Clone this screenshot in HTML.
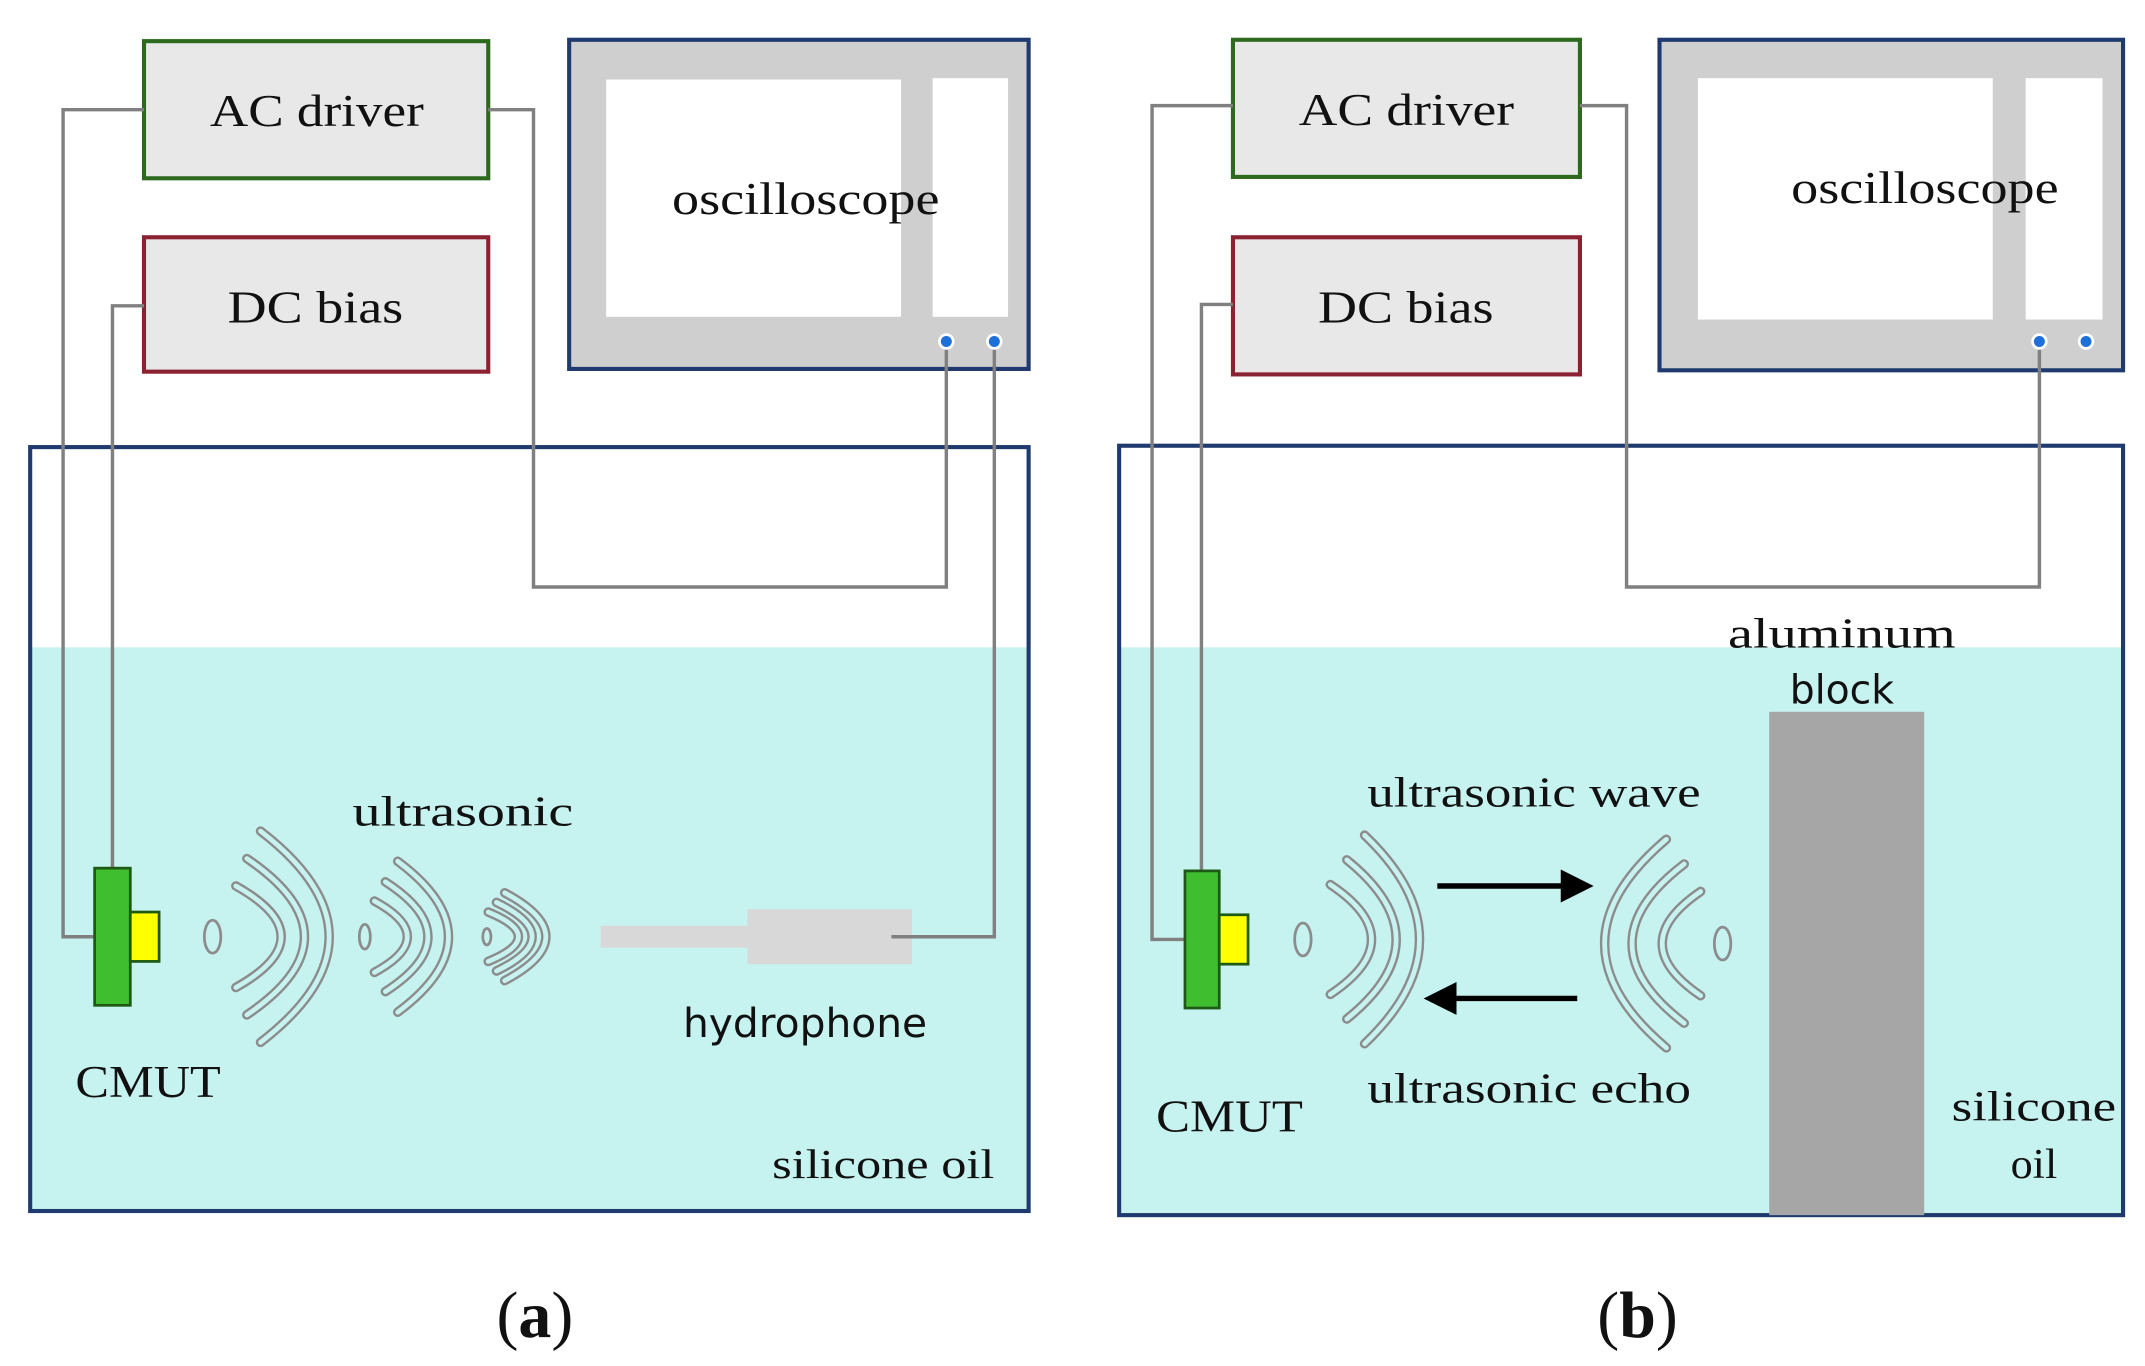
<!DOCTYPE html>
<html><head><style>html,body{margin:0;padding:0;background:#fff}svg{display:block}
.s{font-family:"Liberation Serif",serif;fill:#111}
.w{fill:none;stroke:#8c8c8c;stroke-width:7;stroke-linecap:round}
.wi{fill:none;stroke:#c6f2ef;stroke-width:3.5;stroke-linecap:round}
.g{fill:none;stroke:#808080;stroke-width:2.5}
</style></head><body>
<svg width="2145" height="1366" viewBox="0 0 1564 996" preserveAspectRatio="none" xmlns="http://www.w3.org/2000/svg">
<!-- Panel a -->
<rect x="22" y="326" width="728" height="557" fill="#fff"/>
<rect x="22" y="472" width="728" height="411" fill="#c6f2ef"/>
<rect x="22" y="326" width="728" height="557" fill="none" stroke="#1f3a6e" stroke-width="3"/>
<rect x="105" y="30" width="251" height="100" fill="#e8e8e8" stroke="#2d6a1e" stroke-width="3"/>
<rect x="105" y="173" width="251" height="98" fill="#e8e8e8" stroke="#8b2232" stroke-width="3"/>
<rect x="415" y="29" width="335" height="240" fill="#d0cfd0" stroke="#1f3a6e" stroke-width="3"/>
<rect x="442" y="58" width="215" height="173" fill="#fff"/>
<rect x="680" y="57" width="55" height="174" fill="#fff"/>
<polyline class="g" points="105,80 46,80 46,683 70,683"/>
<polyline class="g" points="105,223 82,223 82,633"/>
<polyline class="g" points="356,80 389,80 389,428 690,428 690,250"/>
<polyline class="g" points="725,250 725,683 650,683"/>
<circle cx="690" cy="249" r="5" fill="#1e6fd8" stroke="#fff" stroke-width="2"/>
<circle cx="725" cy="249" r="5" fill="#1e6fd8" stroke="#fff" stroke-width="2"/>
<rect x="69" y="633" width="26" height="100" fill="#3fbf2f" stroke="#1e5a14" stroke-width="2"/>
<rect x="95" y="665" width="21" height="36" fill="#ffff00" stroke="#1e5a14" stroke-width="2"/>
<rect x="438" y="675" width="107" height="16" fill="#d8d8d8"/>
<rect x="545" y="663" width="120" height="40" fill="#d8d8d8"/>
<polyline class="g" points="650,683 725,683"/>
<g>
<path class="w" d="M190,606 Q290,683 190,760 M180,626 Q264,683 180,740 M172,646 Q238,683 172,720 M290,628 Q364,683 290,738 M281,643 Q343,683 281,723 M273,657 Q321,683 273,709 M368,651 Q428,683 368,715 M362,658 Q414,683 362,708 M356,665 Q400,683 356,701"/>
<path class="wi" d="M190,606 Q290,683 190,760 M180,626 Q264,683 180,740 M172,646 Q238,683 172,720 M290,628 Q364,683 290,738 M281,643 Q343,683 281,723 M273,657 Q321,683 273,709 M368,651 Q428,683 368,715 M362,658 Q414,683 362,708 M356,665 Q400,683 356,701"/>
<ellipse cx="155" cy="683" rx="6" ry="12" fill="none" stroke="#8c8c8c" stroke-width="2"/>
<ellipse cx="266" cy="683" rx="4" ry="9" fill="none" stroke="#8c8c8c" stroke-width="2"/>
<ellipse cx="355" cy="683" rx="3" ry="6" fill="none" stroke="#8c8c8c" stroke-width="2"/>
</g>
<text class="s" x="153" y="92" font-size="33" textLength="156" lengthAdjust="spacingAndGlyphs">AC driver</text>
<text class="s" x="166" y="235" font-size="33" textLength="128" lengthAdjust="spacingAndGlyphs">DC bias</text>
<text class="s" x="490" y="156" font-size="33" textLength="195" lengthAdjust="spacingAndGlyphs">oscilloscope</text>
<text class="s" x="257" y="602" font-size="31" textLength="161" lengthAdjust="spacingAndGlyphs">ultrasonic</text>
<text x="498" y="756" font-size="29" textLength="178" lengthAdjust="spacingAndGlyphs" font-family="DejaVu Sans, sans-serif" fill="#111">hydrophone</text>
<text class="s" x="55" y="800" font-size="33" textLength="106" lengthAdjust="spacingAndGlyphs">CMUT</text>
<text class="s" x="563" y="859" font-size="30" textLength="162" lengthAdjust="spacingAndGlyphs">silicone oil</text>
<text class="s" x="390" y="975" font-size="48" text-anchor="middle">(<tspan font-weight="bold">a</tspan>)</text>
<!-- Panel b -->
<rect x="816" y="325" width="732" height="561" fill="#fff"/>
<rect x="816" y="472" width="732" height="414" fill="#c6f2ef"/>
<rect x="816" y="325" width="732" height="561" fill="none" stroke="#1f3a6e" stroke-width="3"/>
<rect x="899" y="29" width="253" height="100" fill="#e8e8e8" stroke="#2d6a1e" stroke-width="3"/>
<rect x="899" y="173" width="253" height="100" fill="#e8e8e8" stroke="#8b2232" stroke-width="3"/>
<rect x="1210" y="29" width="338" height="241" fill="#d0cfd0" stroke="#1f3a6e" stroke-width="3"/>
<rect x="1238" y="57" width="215" height="176" fill="#fff"/>
<rect x="1477" y="57" width="56" height="176" fill="#fff"/>
<polyline class="g" points="899,77 840,77 840,685 864,685"/>
<polyline class="g" points="899,222 876,222 876,635"/>
<polyline class="g" points="1152,77 1186,77 1186,428 1487,428 1487,250"/>
<circle cx="1487" cy="249" r="5" fill="#1e6fd8" stroke="#fff" stroke-width="2"/>
<circle cx="1521" cy="249" r="5" fill="#1e6fd8" stroke="#fff" stroke-width="2"/>
<rect x="864" y="635" width="25" height="100" fill="#3fbf2f" stroke="#1e5a14" stroke-width="2"/>
<rect x="889" y="667" width="21" height="36" fill="#ffff00" stroke="#1e5a14" stroke-width="2"/>
<rect x="1290" y="519" width="113" height="367" fill="#a6a6a6"/>
<g>
<path class="w" d="M995,609 Q1075,685 995,761 M982,627 Q1054,685 982,743 M970,645 Q1030,685 970,725 M1215,612 Q1125,688 1215,764 M1228,630 Q1152,688 1228,746 M1240,650 Q1184,688 1240,726"/>
<path class="wi" d="M995,609 Q1075,685 995,761 M982,627 Q1054,685 982,743 M970,645 Q1030,685 970,725 M1215,612 Q1125,688 1215,764 M1228,630 Q1152,688 1228,746 M1240,650 Q1184,688 1240,726"/>
<ellipse cx="950" cy="685" rx="6" ry="12" fill="none" stroke="#8c8c8c" stroke-width="2"/>
<ellipse cx="1256" cy="688" rx="6" ry="12" fill="none" stroke="#8c8c8c" stroke-width="2"/>
</g>
<line x1="1048" y1="646" x2="1140" y2="646" stroke="#000" stroke-width="4"/>
<polygon points="1138,634 1162,646 1138,658" fill="#000"/>
<line x1="1150" y1="728" x2="1060" y2="728" stroke="#000" stroke-width="4"/>
<polygon points="1062,716 1038,728 1062,740" fill="#000"/>
<text class="s" x="947" y="91" font-size="33" textLength="157" lengthAdjust="spacingAndGlyphs">AC driver</text>
<text class="s" x="961" y="235" font-size="33" textLength="128" lengthAdjust="spacingAndGlyphs">DC bias</text>
<text class="s" x="1306" y="148" font-size="33" textLength="195" lengthAdjust="spacingAndGlyphs">oscilloscope</text>
<text class="s" x="1260" y="472" font-size="31" textLength="166" lengthAdjust="spacingAndGlyphs">aluminum</text>
<text x="1305" y="513" font-size="29" textLength="76" lengthAdjust="spacingAndGlyphs" font-family="DejaVu Sans, sans-serif" fill="#111">block</text>
<text class="s" x="997" y="588" font-size="31" textLength="243" lengthAdjust="spacingAndGlyphs">ultrasonic wave</text>
<text class="s" x="997" y="804" font-size="31" textLength="236" lengthAdjust="spacingAndGlyphs">ultrasonic echo</text>
<text class="s" x="843" y="825" font-size="33" textLength="107" lengthAdjust="spacingAndGlyphs">CMUT</text>
<text class="s" x="1423" y="817" font-size="31" textLength="120" lengthAdjust="spacingAndGlyphs">silicone</text>
<text class="s" x="1466" y="859" font-size="31" textLength="34" lengthAdjust="spacingAndGlyphs">oil</text>
<text class="s" x="1194" y="975" font-size="48" text-anchor="middle">(<tspan font-weight="bold">b</tspan>)</text>
</svg>
</body></html>
